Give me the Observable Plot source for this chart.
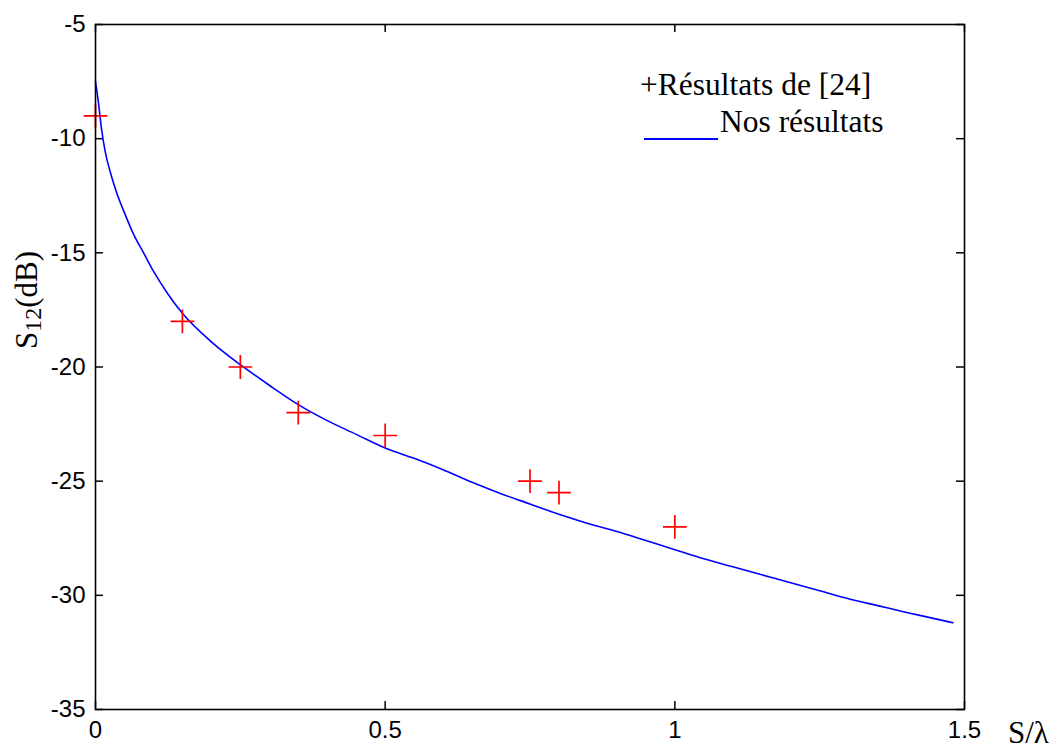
<!DOCTYPE html>
<html>
<head>
<meta charset="utf-8">
<script src="https://cdn.jsdelivr.net/npm/d3@7"></script>
<script src="https://cdn.jsdelivr.net/npm/@observablehq/plot@0.6"></script>
<style>
  html, body { margin: 0; padding: 0; background: #fff; }
  #chart svg { display: block; }
</style>
</head>
<body>
<div id="chart"></div>
<script>
// Reference results ([24]) – red crosses
const refX = [0, 0.15, 0.25, 0.35, 0.5, 0.75, 0.8, 1.0];
const refY = [-9, -18, -20, -22, -23, -25, -25.5, -27];

// Our results – blue curve
const curveX = [0, 0.005, 0.01, 0.017, 0.026, 0.037, 0.05, 0.066, 0.083, 0.1, 0.125, 0.15, 0.2, 0.25, 0.3, 0.35, 0.4, 0.45, 0.5, 0.55, 0.6, 0.65, 0.7, 0.75, 0.8, 0.85, 0.9, 0.95, 1.0, 1.05, 1.1, 1.15, 1.2, 1.25, 1.3, 1.35, 1.4, 1.45, 1.48];
const curveY = [-7.5, -8.4, -9.5, -10.6, -11.5, -12.4, -13.25, -14.2, -15.0, -15.8, -16.8, -17.65, -18.9, -19.9, -20.8, -21.65, -22.35, -22.95, -23.55, -24.0, -24.5, -25.05, -25.55, -26.0, -26.45, -26.85, -27.2, -27.6, -28.0, -28.4, -28.75, -29.1, -29.45, -29.8, -30.15, -30.45, -30.75, -31.03, -31.2];

const xTicks = [0, 0.5, 1, 1.5];
const yTicks = [-35, -30, -25, -20, -15, -10, -5];

const refData = refX.map((x, i) => ({x, y: refY[i]}));
const curveData = curveX.map((x, i) => ({x, y: curveY[i]}));

const W = 1056, H = 749;
const mL = 95, mR = 92, mT = 24, mB = 40;
const pw = W - mL - mR, ph = H - mT - mB;
const tickLen = 8;

const svg = Plot.plot({
  width: W,
  height: H,
  marginLeft: mL,
  marginRight: mR,
  marginTop: mT,
  marginBottom: mB,
  style: {fontFamily: "'Liberation Sans', Arial, sans-serif", fontSize: "24px", color: "#000", background: "#fff"},
  x: {domain: [0, 1.5]},
  y: {domain: [-35, -5]},
  marks: [
    Plot.axisX({ticks: xTicks, tickSize: 0, tickPadding: 11, tickFormat: d => String(d), label: null, fill: "#000"}),
    Plot.axisY({ticks: yTicks, tickSize: 0, tickPadding: 10, tickFormat: d => String(d), label: null, fill: "#000"}),
    // inward ticks on the four sides
    Plot.tickY(yTicks, {y: d => d, insetRight: pw - tickLen, stroke: "#000", strokeWidth: 1.5}),
    Plot.tickY(yTicks, {y: d => d, insetLeft: pw - tickLen, stroke: "#000", strokeWidth: 1.5}),
    Plot.tickX(xTicks, {x: d => d, insetTop: ph - tickLen, stroke: "#000", strokeWidth: 1.5}),
    Plot.tickX(xTicks, {x: d => d, insetBottom: ph - tickLen, stroke: "#000", strokeWidth: 1.5}),
    Plot.line(curveData, {x: "x", y: "y", stroke: "#0000ff", strokeWidth: 1.6, curve: "monotone-x"}),
    Plot.dot(refData, {x: "x", y: "y", symbol: "plus", r: 7.7, stroke: "#ff0000", strokeWidth: 1.7}),
    Plot.frame({stroke: "#000", strokeWidth: 1.6})
  ]
});

const s = d3.select(svg);
// tick label font (MATLAB-like size)
s.selectAll("text")
  .style("font-size", "24px")
  .style("font-family", "'Liberation Sans', Arial, sans-serif")
  .style("fill", "#000");
const serif = "'Liberation Serif', 'Times New Roman', serif";

// Y axis label S12(dB)
const yl = s.append("text")
  .attr("transform", "translate(37,300) rotate(-90)")
  .attr("text-anchor", "middle")
  .attr("font-family", serif)
  .attr("font-size", 31)
  .attr("fill", "#000");
yl.append("tspan").text("S");
yl.append("tspan").attr("font-size", 24).attr("dy", 4).text("12");
yl.append("tspan").attr("dy", -4).text("(dB)");

// X axis label S/λ
s.append("text")
  .attr("x", 1008).attr("y", 743)
  .attr("text-anchor", "start")
  .attr("font-family", serif).attr("font-size", 31).attr("fill", "#000")
  .text("S/λ");

// Legend
s.append("text")
  .attr("x", 640).attr("y", 95)
  .attr("text-anchor", "start")
  .attr("font-family", serif).attr("font-size", 31.5).attr("fill", "#000")
  .text("+Résultats de [24]");
s.append("line")
  .attr("x1", 644).attr("x2", 718).attr("y1", 139).attr("y2", 139)
  .attr("stroke", "#0000ff").attr("stroke-width", 2);
s.append("text")
  .attr("x", 720).attr("y", 132)
  .attr("text-anchor", "start")
  .attr("font-family", serif).attr("font-size", 31.5).attr("fill", "#000")
  .text("Nos résultats");

document.getElementById("chart").appendChild(svg);
</script>
</body>
</html>
